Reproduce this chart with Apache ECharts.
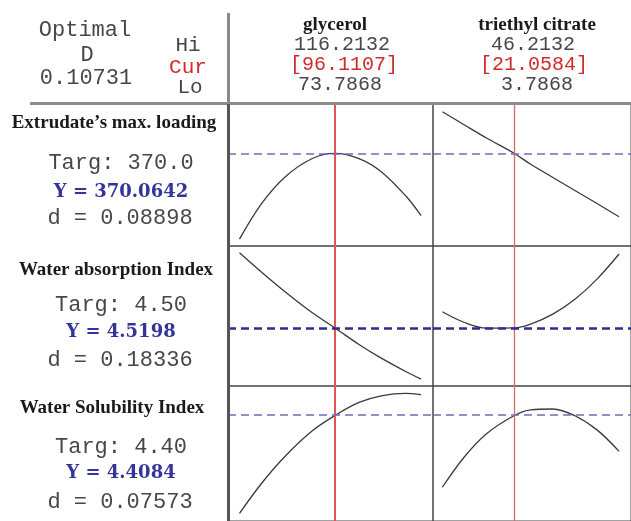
<!DOCTYPE html>
<html>
<head>
<meta charset="utf-8">
<script src="https://cdn.jsdelivr.net/npm/echarts@6/dist/echarts.min.js"></script>
<style>
html,body{margin:0;padding:0;background:#fff;}
#chart{width:631px;height:521px;}
</style>
</head>
<body>
<div id="chart"></div>
<script>
// ---- data ----
const factors = ['glycerol', 'triethyl citrate'];
const factorHi = ['116.2132', '46.2132'];
const factorCur = [96.1107, 21.0584];
const factorLo = ['73.7868', '3.7868'];
const responses = ['Extrudate\u2019s max. loading', 'Water absorption Index', 'Water Solubility Index'];
const targets = ['370.0', '4.50', '4.40'];
const predicted = [370.0642, 4.5198, 4.4084];
const predictedText = ['370.0642', '4.5198', '4.4084'];
const desirability = ['0.08898', '0.18336', '0.07573'];
const overallD = '0.10731';

const glycerolX = [73.7868, 79.1, 84.5, 90.8, 96.1107, 101.7, 106.9, 112.6, 116.2132];
const tecX = [3.7868, 9.09, 14.39, 21.0584, 25.0, 30.3, 35.61, 40.91, 46.2132];

const loadingGly = [318.2, 340.2, 356.0, 367.0, 370.06, 366.9, 359.0, 344.4, 332.4];
const loadingTec = [395.3, 387.3, 379.4, 370.06, 363.5, 355.5, 347.6, 339.7, 331.7];
const waiGly = [4.961, 4.844, 4.731, 4.609, 4.520, 4.423, 4.343, 4.265, 4.220];
const waiTec = [4.615, 4.552, 4.519, 4.520, 4.543, 4.601, 4.688, 4.806, 4.953];
const wsiGly = [3.770, 3.971, 4.144, 4.308, 4.408, 4.493, 4.536, 4.552, 4.544];
const wsiTec = [3.940, 4.139, 4.289, 4.408, 4.445, 4.450, 4.406, 4.314, 4.174];

// ---- layout ----
const colLeft = [228, 433];
const colWidth = 205;
const colRange = [[71.1, 118.99], [1.538, 49.07]];
const rowTop = [104, 246, 386];
const rowHeight = [142, 140, 141];
const rowRange = [[314, 400], [4.18, 5.0], [3.72, 4.6]];
const curves = [[loadingGly, loadingTec], [waiGly, waiTec], [wsiGly, wsiTec]];
const xs = [glycerolX, tecX];
const dashStyles = [
  {color: '#6d6db8', width: 1.5},
  {color: '#2c2c94', width: 2.5},
  {color: '#6d6db8', width: 1.5}
];
const redStyles = [{color: '#e0555a', width: 2}, {color: '#e06468', width: 1.3}];

const grids = [], xAxes = [], yAxes = [], series = [];
for (let r = 0; r < 3; r++) {
  for (let c = 0; c < 2; c++) {
    const i = grids.length;
    grids.push({left: colLeft[c], top: rowTop[r], width: colWidth, height: rowHeight[r],
      show: true, borderColor: '#444', borderWidth: 1, backgroundColor: 'transparent'});
    xAxes.push({type: 'value', gridIndex: i, min: colRange[c][0], max: colRange[c][1], show: false});
    yAxes.push({type: 'value', gridIndex: i, min: rowRange[r][0], max: rowRange[r][1], show: false});
    series.push({
      type: 'line', xAxisIndex: i, yAxisIndex: i,
      data: xs[c].map((x, k) => [x, curves[r][c][k]]),
      smooth: 0.35, showSymbol: false, symbol: 'none',
      lineStyle: {color: '#3a3a3a', width: 1.3},
      markLine: {
        silent: true, symbol: ['none', 'none'], label: {show: false}, animation: false,
        data: [
          {xAxis: factorCur[c], lineStyle: {color: redStyles[c].color, width: redStyles[c].width, type: 'solid'}},
          {yAxis: predicted[r], lineStyle: {color: dashStyles[r].color, width: dashStyles[r].width, type: [8, 5]}}
        ]
      }
    });
  }
}

const mono = (s) => s + 'px "Liberation Mono", "DejaVu Sans Mono", monospace';
const boldSerif = 'bold 19px "Liberation Serif", "Times New Roman", serif';
const monoColor = '#474747';
function txt(text, x, y, font, fill) {
  return {type: 'text', x: x, y: y, z: 20,
    style: {text: text, font: font, fill: fill, align: 'center', verticalAlign: 'middle',
            textAlign: 'center', textVerticalAlign: 'middle'}};
}
function line(x1, y1, x2, y2, stroke, w) {
  return {type: 'line', z: 15, shape: {x1: x1, y1: y1, x2: x2, y2: y2}, style: {stroke: stroke, lineWidth: w}};
}

const graphics = [];
// header
graphics.push(txt('Optimal', 85, 30, mono(22), monoColor));
graphics.push(txt('D', 87, 55, mono(22), monoColor));
graphics.push(txt(overallD, 86, 78, mono(22), monoColor));
graphics.push(txt('Hi', 188, 45, mono(21), monoColor));
graphics.push(txt('Cur', 188, 67, mono(21), '#d02a2a'));
graphics.push(txt('Lo', 190, 87, mono(21), monoColor));
const headCx = [[335, 342, 344, 340], [537, 533, 534, 537]];
for (let c = 0; c < 2; c++) {
  graphics.push(txt(factors[c], headCx[c][0], 25, boldSerif, '#1a1a1a'));
  graphics.push(txt(factorHi[c], headCx[c][1], 45, mono(20), monoColor));
  graphics.push(txt('[' + factorCur[c].toFixed(4) + ']', headCx[c][2], 65, mono(20), '#d02a2a'));
  graphics.push(txt(factorLo[c], headCx[c][3], 85, mono(20), monoColor));
}
// row labels
const rowTextY = [[123, 163, 192, 218], [270, 305, 332, 360], [408, 447, 473, 502]];
const titleCx = [114, 116, 112];
for (let r = 0; r < 3; r++) {
  graphics.push(txt(responses[r], titleCx[r], rowTextY[r][0], boldSerif, '#1a1a1a'));
  graphics.push(txt('Targ: ' + targets[r], 121, rowTextY[r][1], mono(22), monoColor));
  graphics.push(txt('Y = ' + predictedText[r], 121, rowTextY[r][2], 'bold 18px "DejaVu Serif", serif', '#34349a'));
  graphics.push(txt('d = ' + desirability[r], 120, rowTextY[r][3], mono(22), monoColor));
}
// frame lines
graphics.push(line(30, 103.5, 631, 103.5, '#8c8c8c', 3));
graphics.push(line(228.5, 13, 228.5, 104, '#8a8a8a', 3));
graphics.push(line(228.5, 104, 228.5, 521, '#555', 3));

const chart = echarts.init(document.getElementById('chart'), null, {renderer: 'canvas'});
chart.setOption({
  animation: false,
  backgroundColor: '#ffffff',
  grid: grids, xAxis: xAxes, yAxis: yAxes, series: series,
  graphic: graphics
});
</script>
</body>
</html>
